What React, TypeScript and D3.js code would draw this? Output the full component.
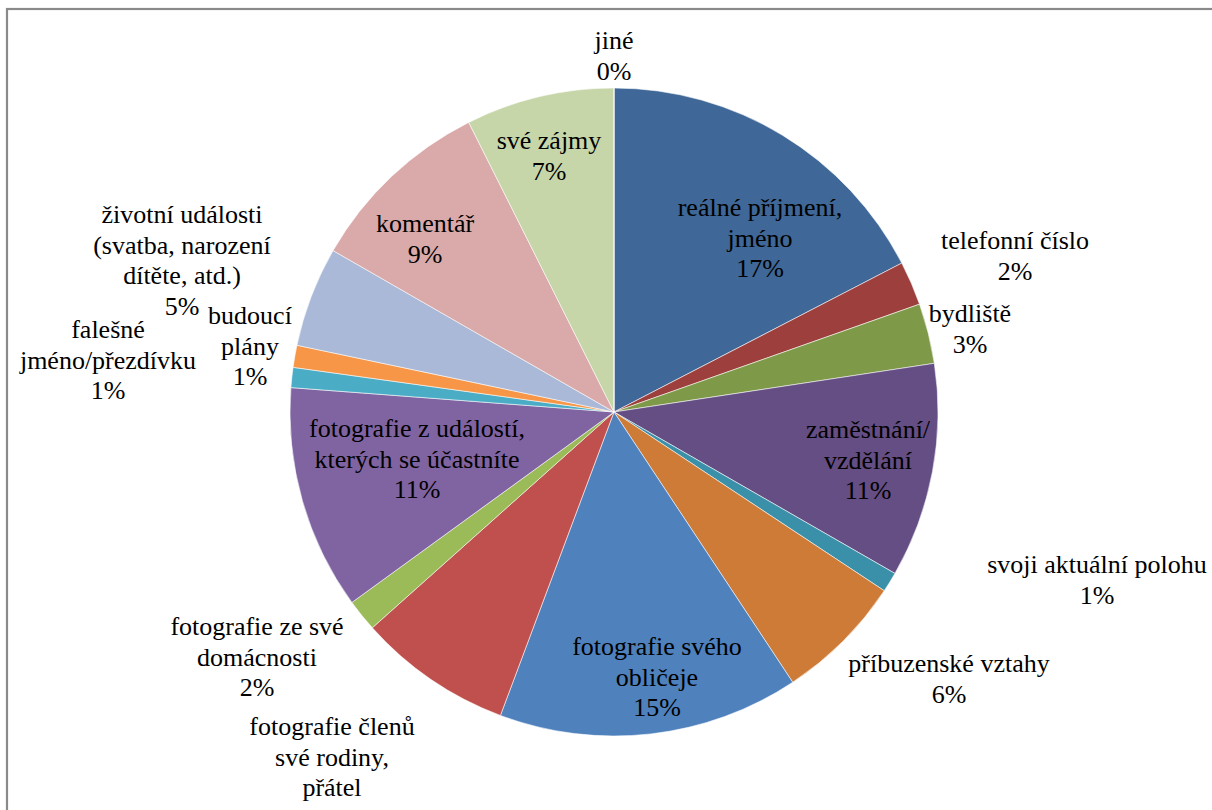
import React from "react";
import * as d3 from "d3";

// ---- data ----
const categories: string[] = [
  "reálné příjmení,\njméno",
  "telefonní číslo",
  "bydliště",
  "zaměstnání/\nvzdělání",
  "svoji aktuální polohu",
  "příbuzenské vztahy",
  "fotografie svého\nobličeje",
  "fotografie členů\nsvé rodiny,\npřátel",
  "fotografie ze své\ndomácnosti",
  "fotografie z událostí,\nkterých se účastníte",
  "falešné\njméno/přezdívku",
  "budoucí\nplány",
  "životní události\n(svatba, narození\ndítěte, atd.)",
  "komentář",
  "své zájmy",
  "jiné",
];
const shares: number[] = [17.4, 2.2, 3.0, 10.7, 1.0, 6.4, 15.0, 7.7, 1.6, 11.2, 1.0, 1.1, 5.0, 9.3, 7.4, 0.0];

// ---- styles / layout ----
const colors: string[] = [
  "#3f6797", "#9d3f3c", "#7e9a48", "#654e83", "#3a90a8", "#cd7b37",
  "#4f81bd", "#c0504d", "#9bbb59", "#8064a2", "#4bacc6", "#f79646",
  "#a9b9d7", "#d9aaa9", "#c6d6a9", "#b8acc9",
];
// label block centre offsets from pie centre (px)
const labelOffsets: [number, number][] = [
  [146, -173], [401, -156], [356, -83], [254, 49], [483, 168], [335, 267],
  [43, 266], [-282, 361], [-357, 246], [-197, 48], [-506, -51], [-364, -65],
  [-432, -151], [-189, -173], [-65, -256], [0, -356],
];

const W = 1212;
const H = 810;
const CX = 614;
const CY = 412;
const R = 324;
const FONT = 26;
const LH = 30.5;

export default function App() {
  const total = d3.sum(shares);
  const pie = d3
    .pie<number>()
    .sort(null)
    .startAngle(0)
    .endAngle(2 * Math.PI)
    .value((d) => d);
  const arcs = pie(shares);
  const arcGen = d3.arc<d3.PieArcDatum<number>>().innerRadius(0).outerRadius(R);

  const labels = arcs.map((a, i) => {
    const lines = categories[i].split("\n");
    lines.push(`${Math.round((shares[i] / total) * 100)}%`);
    const [ox, oy] = labelOffsets[i];
    return { x: CX + ox, y: CY + oy, lines };
  });

  return (
    <div style={{ position: "absolute", left: 0, top: 0, width: W, height: H, overflow: "hidden" }}>
      <svg width={W} height={H} style={{ position: "absolute", left: 0, top: 0 }}>
        <rect x={7} y={9} width={W + 20} height={H + 20} fill="#fff" stroke="#8a8a8a" strokeWidth={2.2} />
        <g transform={`translate(${CX},${CY})`}>
          {arcs.map((a, i) => (
            <path key={i} d={arcGen(a) || ""} fill={colors[i]} stroke="#ffffff" strokeOpacity={0.55} strokeWidth={1} />
          ))}
        </g>
      </svg>
      {labels.map((l, i) => (
        <div
          key={i}
          style={{
            position: "absolute",
            left: l.x,
            top: l.y,
            transform: "translate(-50%, -50%)",
            fontFamily: "Liberation Serif",
            fontSize: FONT,
            lineHeight: `${LH}px`,
            textAlign: "center",
            whiteSpace: "nowrap",
            color: "#000",
          }}
        >
          {l.lines.map((s, j) => (
            <div key={j}>{s}</div>
          ))}
        </div>
      ))}
    </div>
  );
}
